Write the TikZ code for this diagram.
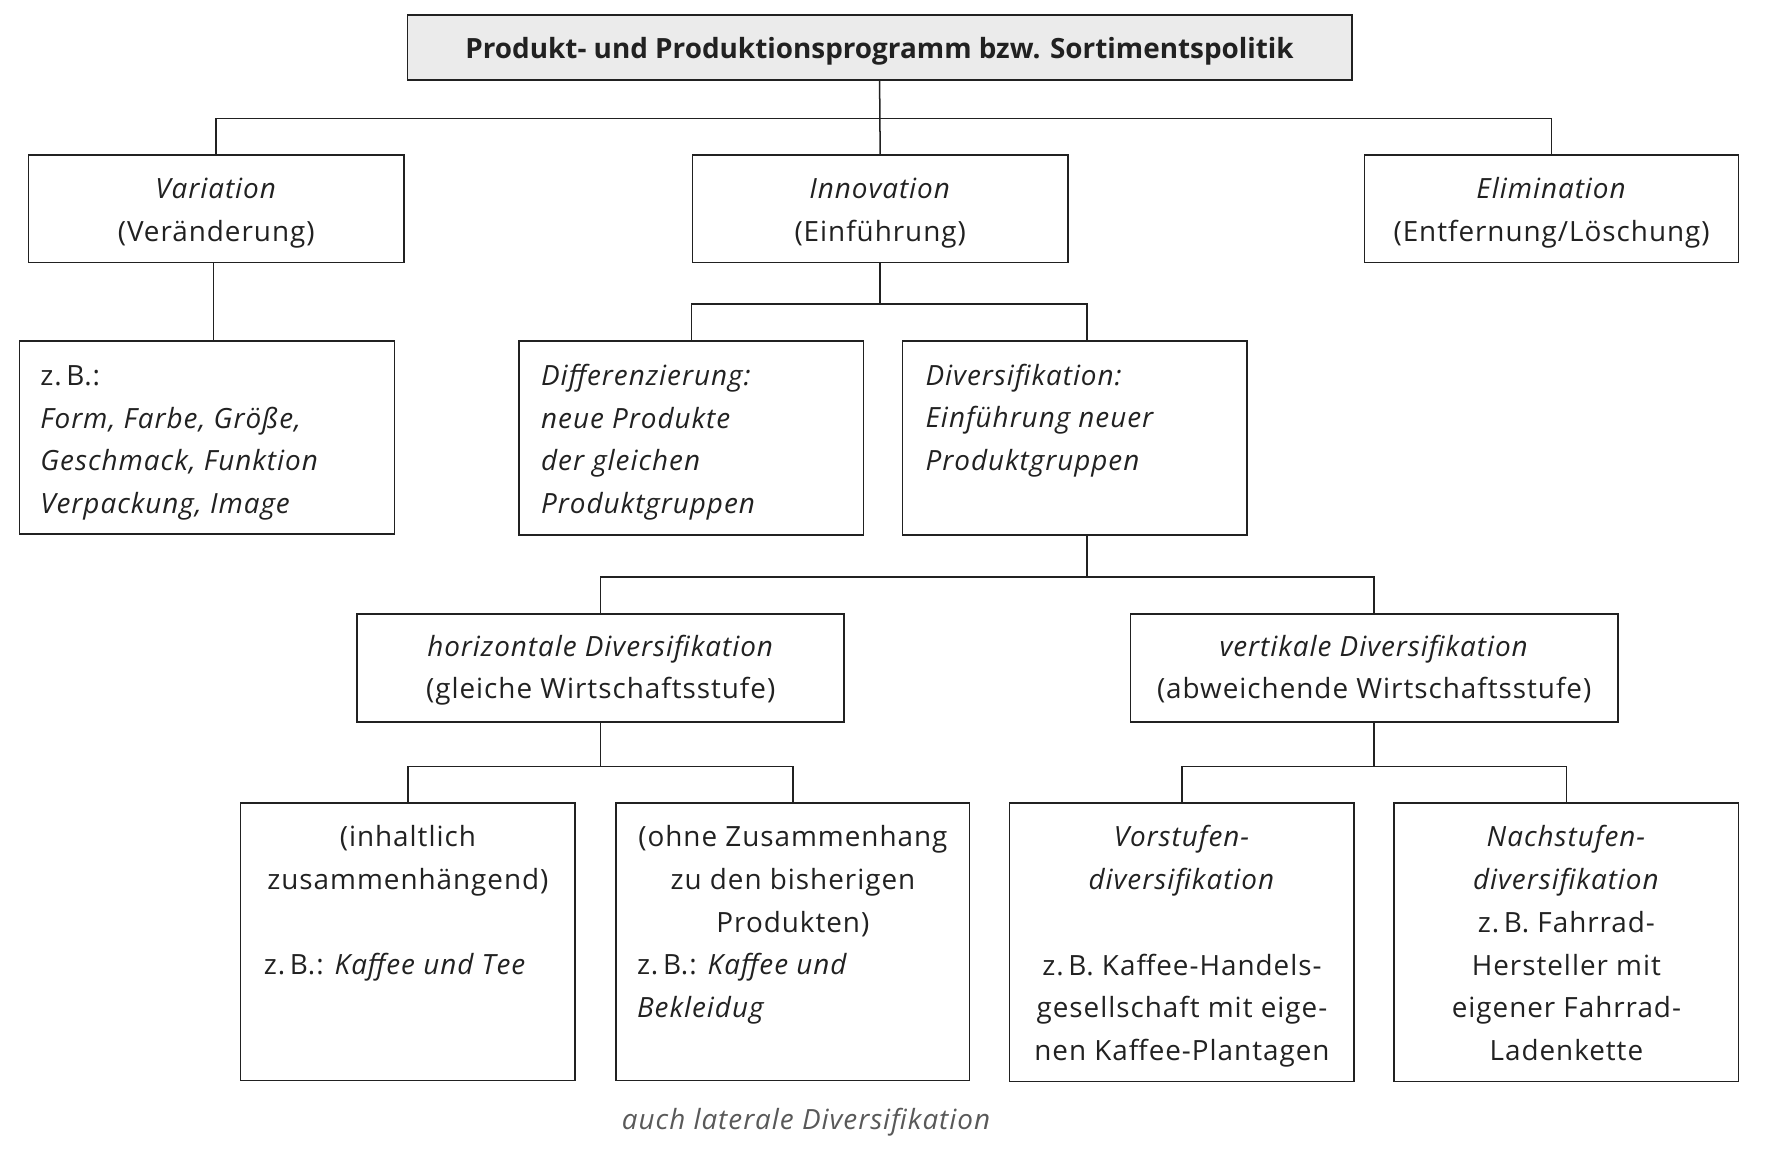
\documentclass[tikz,border=0pt]{standalone}
\usepackage{fontspec}
\setmainfont{Open Sans}[LetterSpace=3.5]
\newfontfamily\titlefont{Open Sans}
\usepackage{tikz}
\usetikzlibrary{calc,fit}
\definecolor{ink}{rgb}{0.13,0.13,0.13}
\definecolor{boxgray}{rgb}{0.92,0.92,0.92}
\definecolor{notegray}{rgb}{0.35,0.35,0.35}
\tikzset{
	box/.style={draw=ink, line width=0.75pt, inner sep=0pt},
	txt/.style={inner sep=0pt, text=ink},
	link/.style={draw=ink, line width=0.75pt},
}

\begin{document}
\begin{tikzpicture}[x=0.02cm,y=-0.02cm,font=\fontsize{13.9}{21.3}\selectfont]
	\useasboundingbox (0,0) rectangle (1569,1015);
	
	% boxes
	\node[box,fill=boxgray,fit={(357,13) (1185,70)}] (prog) {};
	\node[box,fit={(25,136) (354,230)}] (var) {};
	\node[box,fit={(607,136) (936,230)}] (inno) {};
	\node[box,fit={(1196,136) (1524,230)}] (elim) {};
	
	\node[box,fit={(17,299) (346,468)}] (zb) {};
	\node[box,fit={(455,299) (757,469)}] (diff) {};
	\node[box,fit={(791,299) (1093,469)}] (divers) {};
	
	\node[box,fit={(313,538) (740,633)}] (hor) {};
	\node[box,fit={(991,538) (1418,633)}] (vert) {};
	
	\node[box,fit={(211,704) (504,947)}] (inh) {};
	\node[box,fit={(540,704) (850,947)}] (ohne) {};
	\node[box,fit={(885,704) (1187,948)}] (vor) {};
	\node[box,fit={(1222,704) (1524,948)}] (nach) {};
	
	% texts (anchor = baseline of the last line)
	\node[txt,anchor=base] (progtext) at (prog.center |- 0,51) {\titlefont\bfseries Produkt- und Produktionsprogramm bzw. Sortimentspolitik};
	\node[txt,anchor=base,align=center] (vartext) at (var.center |- 0,211.5) {\textit{Variation}\\(Veränderung)};
	\node[txt,anchor=base,align=center] (innotext) at (inno.center |- 0,211.5) {\textit{Innovation}\\(Einführung)};
	\node[txt,anchor=base,align=center] (elimtext) at (elim.center |- 0,211.5) {\textit{Elimination}\\(Entfernung/Löschung)};
	
	\node[txt,anchor=base west,align=left] (zbtext) at (35,450) {z.\,B.:\\\textit{Form, Farbe, Größe,}\\\textit{Geschmack, Funktion}\\\textit{Verpackung, Image}};
	\node[txt,anchor=base west,align=left] (difftext) at (474,450) {\textit{Differenzierung:}\\\textit{neue Produkte}\\\textit{der gleichen}\\\textit{Produktgruppen}};
	\node[txt,anchor=base west,align=left] (diverstext) at (811,412.5) {\textit{Diversifikation:}\\\textit{Einführung neuer}\\\textit{Produktgruppen}};
	
	\node[txt,anchor=base,align=center] (hortext) at (hor.center |- 0,612.5) {\textit{horizontale Diversifikation}\\(gleiche Wirtschaftsstufe)};
	\node[txt,anchor=base,align=center] (verttext) at (vert.center |- 0,612.5) {\textit{vertikale Diversifikation}\\(abweichende Wirtschaftsstufe)};
	
	\node[txt,anchor=base,align=center] (inhtext) at (inh.center |- 0,779.5) {(inhaltlich\\zusammenhängend)};
	\node[txt,anchor=base west] (inhbsp) at (231,854.5) {z.\,B.: \textit{Kaffee und Tee}};
	\node[txt,anchor=base,align=center] (ohnetext) at (ohne.center |- 0,817) {(ohne Zusammenhang\\zu den bisherigen\\Produkten)};
	\node[txt,anchor=base west,align=left] (ohnebsp) at (558,892) {z.\,B.: \textit{Kaffee und}\\\textit{Bekleidug}};
	\node[txt,anchor=base,align=center] (vortext) at (vor.center |- 0,929.5) {\textit{Vorstufen-}\\\textit{diversifikation}\\[21.3pt]z.\,B. Kaffee-Handels-\\gesellschaft mit eige-\\nen Kaffee-Plantagen};
	\node[txt,anchor=base,align=center] (nachtext) at (nach.center |- 0,929.5) {\textit{Nachstufen-}\\\textit{diversifikation}\\z.\,B. Fahrrad-\\Hersteller mit\\eigener Fahrrad-\\Ladenkette};
	
	\node[txt,anchor=base,text=notegray] (lateral) at (707,990) {\textit{auch laterale Diversifikation}};
	
	% connectors
	\coordinate (dvtop) at ($(divers.north)+(11,0)$);
	\coordinate (dvbot) at ($(divers.south)+(11,0)$);
	\coordinate (vardown) at ($(var.south)+(-2.5,0)$);
	\draw[link] (prog.south) -- (inno.north);
	\draw[link] (vardown) -- (vardown |- zb.north);
	\foreach \p/\c/\d in {prog.south/var.north/33, prog.south/elim.north/33,
		inno.south/diff.north/36, inno.south/dvtop/36,
		dvbot/hor.north/36, dvbot/vert.north/36,
		hor.south/inh.north/38, hor.south/ohne.north/38,
		vert.south/vor.north/38, vert.south/nach.north/38}{
		\draw[link] (\p) -- ++(0,\d) -| (\c);
	}
\end{tikzpicture}
\end{document}
